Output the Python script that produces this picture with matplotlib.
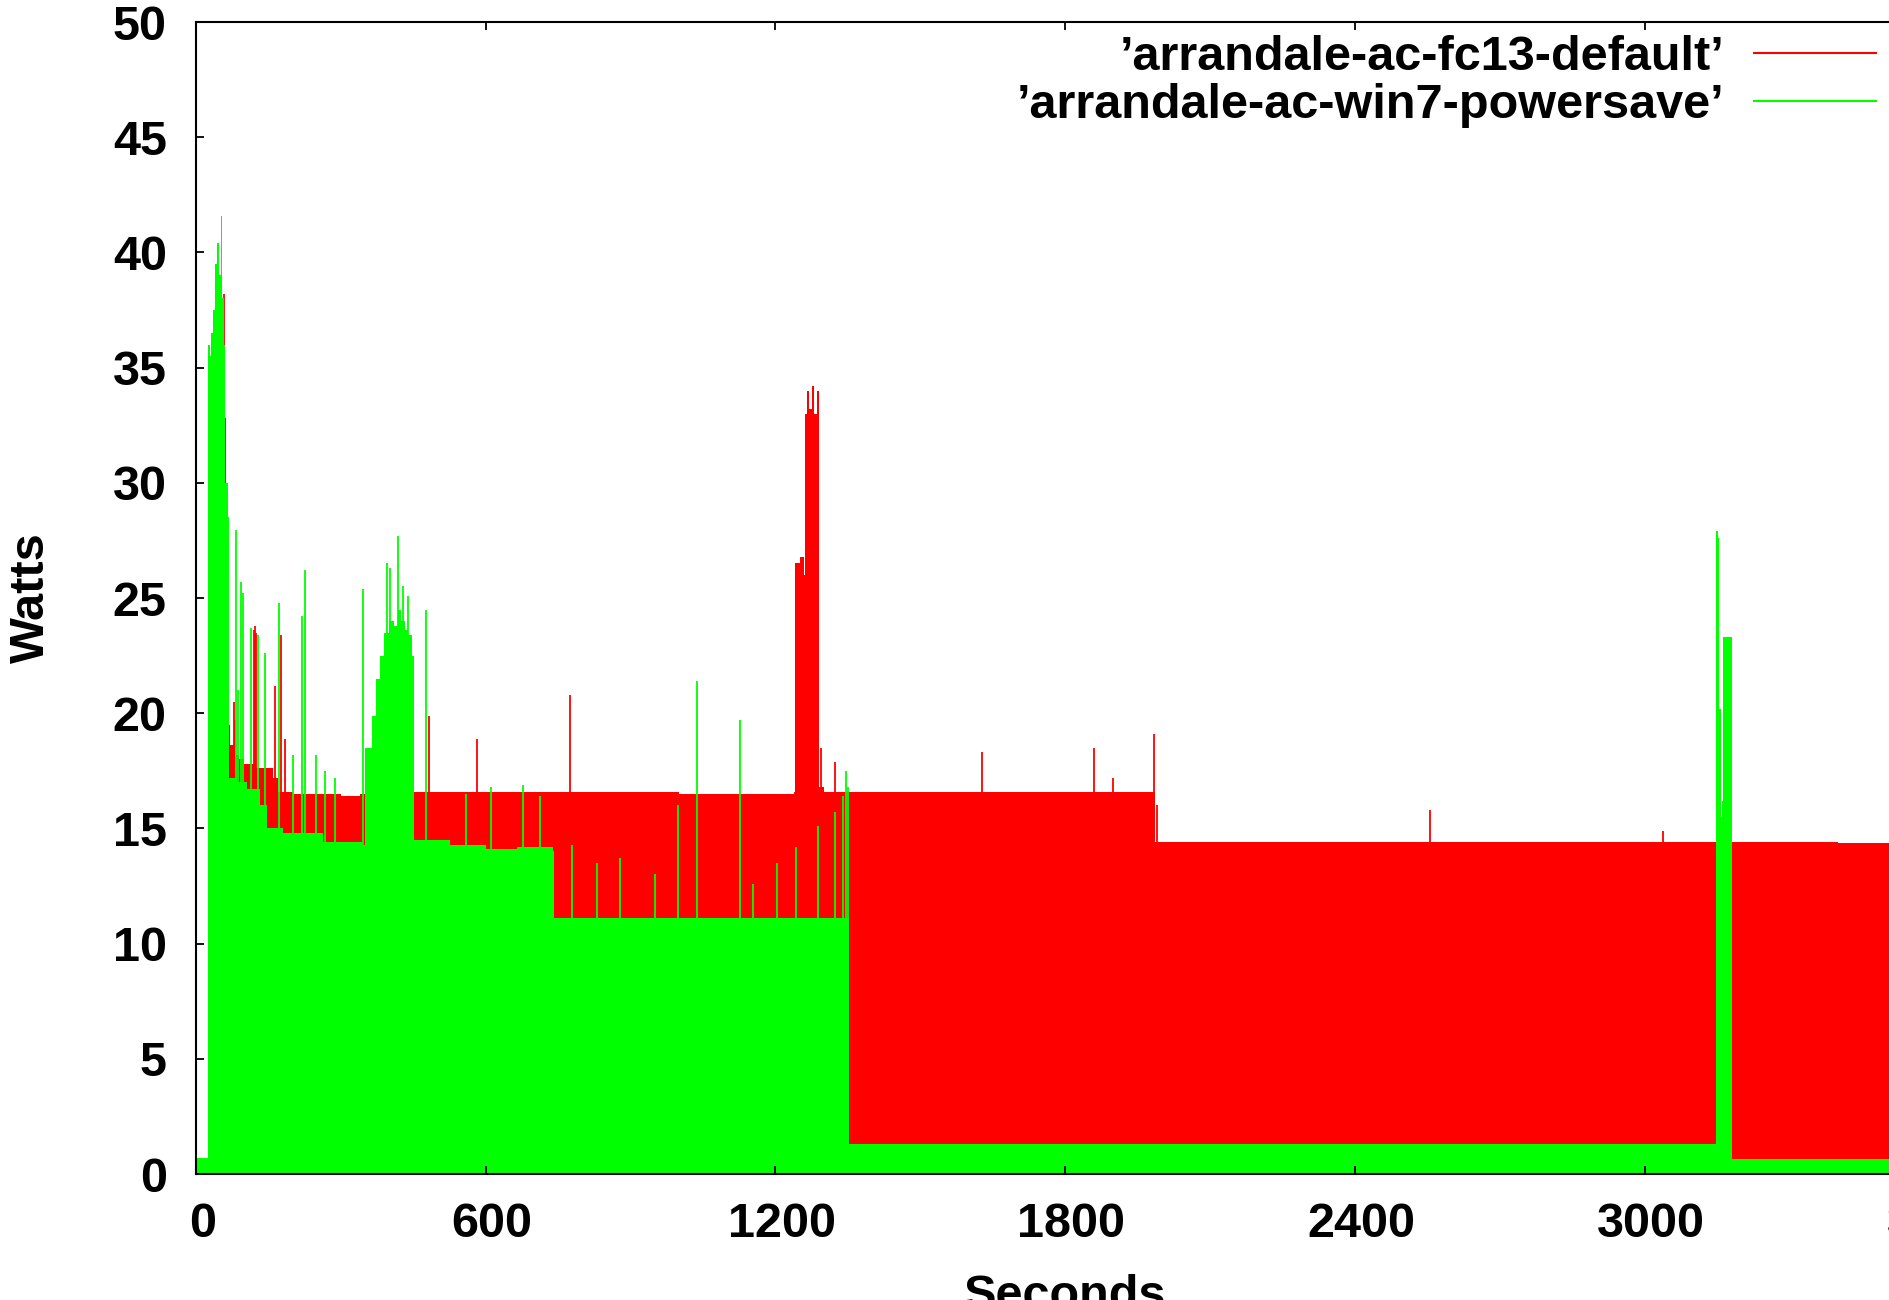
import matplotlib
matplotlib.use("Agg")
import matplotlib.pyplot as plt
import matplotlib.transforms as mtransforms
import numpy as np

# ---------------- data ----------------
series_labels = ["\u2019arrandale-ac-fc13-default\u2019", "\u2019arrandale-ac-win7-powersave\u2019"]
series_colors = ["#ff0000", "#00ff00"]

# red series: envelope of the rapidly oscillating trace (seconds, watts)
red_t  = [0, 24, 25, 45, 58, 60, 63, 66, 70, 80, 90, 100, 110, 125, 140, 160, 170, 200, 300, 340,
          450, 600, 800, 1000, 1238, 1240, 1250, 1258, 1262, 1266, 1270, 1275, 1280, 1285, 1291,
          1300, 1500, 1800, 1982, 1985, 2200, 2600, 3000, 3150, 3181, 3400, 3600]
red_hi = [0.65, 0.65, 30, 33, 33, 32.8, 25, 19.5, 18.6, 18.2, 18.0, 17.8, 17.8, 17.6, 17.6, 17.2, 16.6, 16.5, 16.4, 16.5,
          16.6, 16.6, 16.6, 16.5, 16.6, 26.5, 26.8, 26.0, 33.0, 34.0, 33.2, 34.2, 33.0, 34.0, 16.8,
          16.6, 16.6, 16.6, 16.6, 14.4, 14.4, 14.4, 14.4, 14.4, 14.4, 14.35, 14.35]
red_lo = [0, 0, 1.3, 1.3, 1.3, 1.3, 1.3, 1.3, 1.3, 1.3, 1.3, 1.3, 1.3, 1.3, 1.3, 1.3, 1.3, 1.3, 1.3, 1.3,
          1.3, 1.3, 1.3, 1.3, 1.3, 1.3, 1.3, 1.3, 1.3, 1.3, 1.3, 1.3, 1.3, 1.3, 1.3,
          1.3, 1.3, 1.3, 1.3, 1.3, 1.3, 1.3, 1.3, 1.3, 0.65, 0.65, 0.65]
red_spike_t = [58, 61, 78, 81, 120, 122, 125, 163, 175, 184, 483, 582, 774, 1295, 1323,
               1628, 1859, 1899, 1984, 1990, 2555, 3038]
red_spike_w = [38.2, 32.8, 20.5, 19.7, 23.6, 23.8, 23.5, 21.2, 23.4, 18.9, 19.9, 18.9, 20.8, 18.5, 17.9,
               18.3, 18.5, 17.2, 19.1, 16.0, 15.8, 14.9]

# green series: envelope (lower edge is 0)
green_t  = [0, 25, 28, 32, 36, 40, 44, 48, 51, 53, 57, 60, 66, 68, 84, 105, 132, 146, 180, 263, 345,
            350, 364, 372, 381, 390, 400, 410, 418, 425, 432, 440, 447, 452, 526, 600, 664, 739, 741,
            1352, 1353, 3147, 3148, 3152, 3154, 3157, 3160, 3163, 3181, 3600]
green_hi = [0.7, 36, 35.5, 36.5, 37.5, 39.5, 40.4, 39.0, 41.6, 38.0, 36.0, 30.0, 28.5, 17.2, 17.0, 16.7, 16.0, 15.0, 14.8, 14.4, 14.3,
            18.5, 19.9, 21.5, 22.5, 23.5, 24.0, 23.8, 24.5, 24.0, 23.6, 23.4, 22.5, 14.5, 14.3, 14.1, 14.2, 14.0, 11.1,
            11.1, 1.3, 1.3, 27.9, 27.6, 20.2, 15.5, 16.2, 23.3, 0.65, 0.65]
green_spike_t = [82, 86, 92.5, 98, 113, 129, 142, 172, 200, 219, 226, 248, 268, 288, 346, 395, 402, 419, 428, 440,
                 476, 560, 610, 677, 712, 779, 830, 879, 950, 998, 1038, 1126, 1154, 1203, 1243, 1289, 1324,
                 1340, 1347, 1351]
green_spike_w = [27.95, 21.0, 25.7, 25.2, 23.7, 23.4, 22.6, 24.8, 18.2, 24.2, 26.2, 18.2, 17.5, 17.2, 25.4, 26.5, 26.3, 27.7, 25.5, 25.1,
                 24.5, 16.5, 16.8, 16.9, 16.4, 14.3, 13.5, 13.7, 13.0, 16.0, 21.4, 19.7, 12.6, 13.5, 14.2, 15.1, 15.7,
                 16.4, 17.5, 16.8]

x_ticks = [0, 600, 1200, 1800, 2400, 3000, 3600]
y_ticks = [0, 5, 10, 15, 20, 25, 30, 35, 40, 45, 50]
x_label = "Seconds"
y_label = "Watts"

# ---------------- figure ----------------
FONT = ["Liberation Sans", "DejaVu Sans"]
plt.rcParams["font.family"] = FONT
plt.rcParams["font.weight"] = "bold"
FS = 35
FS_LEG = 35

W_PX, H_PX = 1889, 1300
fig = plt.figure(figsize=(W_PX / 100, H_PX / 100), dpi=100)
ax_left, ax_right, ax_top, ax_bottom = 196, 1934.5, 22, 1174
ax = fig.add_axes([ax_left / W_PX, 1 - ax_bottom / H_PX,
                   (ax_right - ax_left) / W_PX, (ax_bottom - ax_top) / H_PX])
ax.set_xlim(0, 3600)
ax.set_ylim(0, 50)

red, green = series_colors
ax.fill_between(red_t, red_lo, red_hi, step="post", color=red, lw=0, zorder=1)
ax.vlines(red_spike_t, 0, red_spike_w, color=red, lw=1.3, zorder=1)
ax.fill_between(green_t, 0, green_hi, step="post", color=green, lw=0, zorder=1.2)
ax.vlines(green_spike_t, 0, green_spike_w, color=green, lw=1.3, zorder=1.2)

# legend proxies
h_red, = ax.plot([], [], color=red, lw=1.5, label=series_labels[0])
h_green, = ax.plot([], [], color=green, lw=1.5, label=series_labels[1])
leg = ax.legend(handles=[h_red, h_green], loc="upper right",
                bbox_to_anchor=(1876 / W_PX, 1 - 35 / H_PX), bbox_transform=fig.transFigure,
                frameon=False, markerfirst=False,
                prop={"family": FONT, "weight": "bold", "size": FS_LEG},
                handlelength=2.5, handletextpad=0.62, labelspacing=0.06,
                borderpad=0, borderaxespad=0)

ax.set_xticks(x_ticks)
ax.set_yticks(y_ticks)
ax.tick_params(direction="in", length=5.5, width=1.3, top=True, right=True,
               labelsize=FS, color="black")
ax.tick_params(axis="y", pad=21)
ax.tick_params(axis="x", pad=20)
shift = mtransforms.ScaledTranslation(4.5 / 72, 0, fig.dpi_scale_trans)
for lab in ax.get_xticklabels():
    lab.set_fontweight("bold")
    lab.set_transform(lab.get_transform() + shift)
for lab in ax.get_yticklabels():
    lab.set_fontweight("bold")
for sp in ax.spines.values():
    sp.set_linewidth(1.5)
    sp.set_zorder(3)

ax.set_xlabel(x_label, fontsize=FS, fontweight="bold")
ax.set_ylabel(y_label, fontsize=FS, fontweight="bold")
ax.xaxis.set_label_coords(0.5, (ax_bottom - 1274) / (ax_bottom - ax_top))
ax.yaxis.set_label_coords((54 - ax_left) / (ax_right - ax_left), 0.5)

fig.savefig("out.png", dpi=100)
